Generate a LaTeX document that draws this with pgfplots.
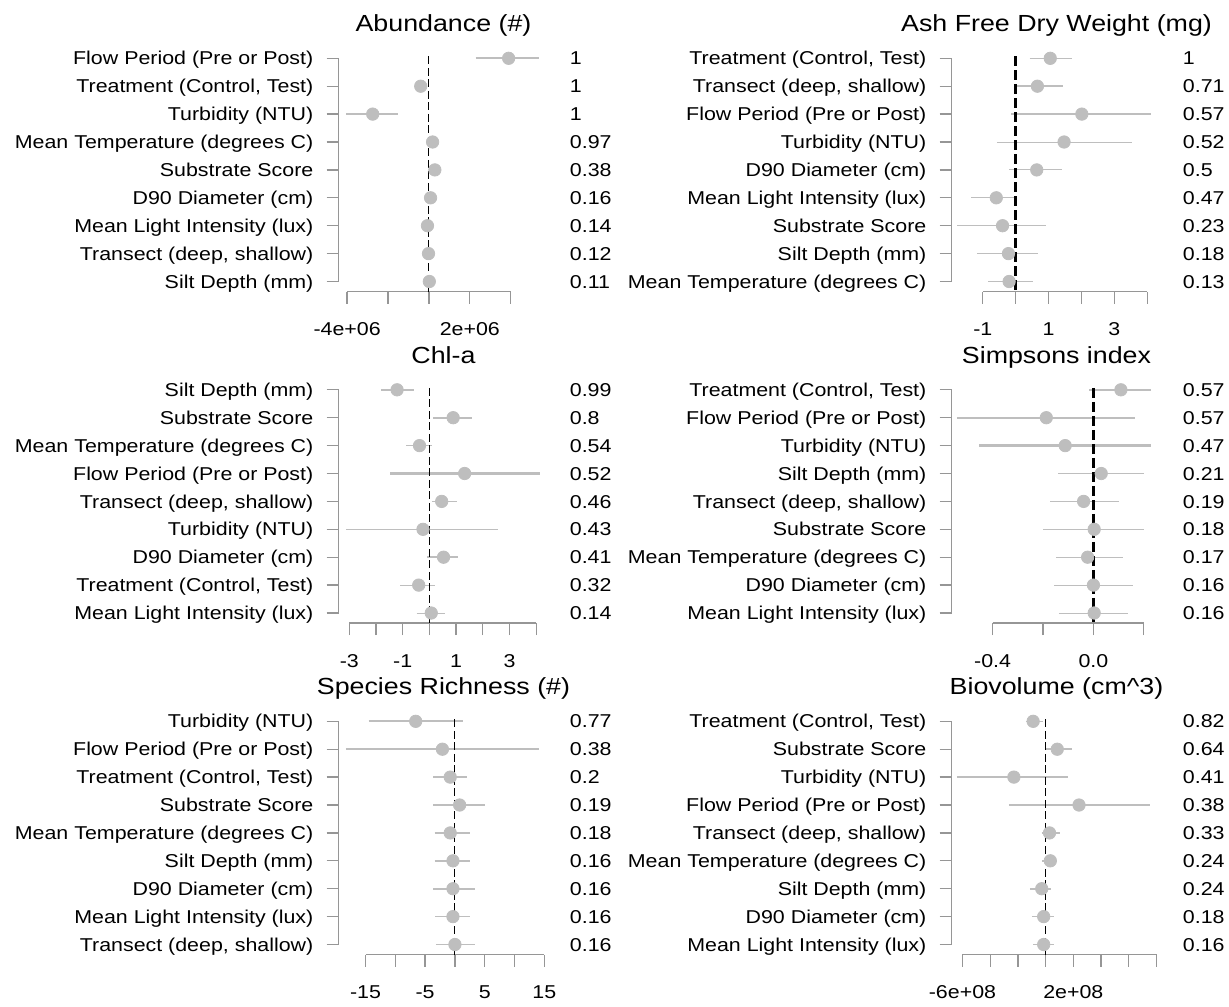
\documentclass[border=0pt]{standalone}
\usepackage{fontspec}
\setmainfont{Liberation Sans}[FakeStretch=1.15]
\usepackage{pgfplots}
\pgfplotsset{compat=1.18}
\definecolor{axgray}{RGB}{150,150,150}
\definecolor{dotgray}{RGB}{190,190,190}
\newcommand\lbl{\fontsize{9.3pt}{11pt}\selectfont}
\newcommand\ttl{\fontsize{11.65pt}{14pt}\selectfont}
\newcommand\eb[4]{\addplot[dotgray, line width=#4, mark=none] coordinates {(#2,#1) (#3,#1)};}
\pgfplotsset{
  forest/.style={
    scale only axis, width=105pt, height=123.25pt,
    anchor=south west,
    ymin=0.6416, ymax=9.4767,
    ytick={1,2,3,4,5,6,7,8,9},
    tick align=outside, major tick length=6pt,
    xtick pos=left, ytick pos=left,
    axis line style={draw=none},
    tick style={axgray, line width=0.65pt},
    clip=false, scaled x ticks=false,
    tick label style={font=\lbl, text=black},
    yticklabel style={anchor=base east, inner sep=0pt, xshift=-6.4pt, yshift=-3.3pt},
    xticklabel style={anchor=base, inner sep=0pt, yshift=-16pt},
    every axis title shift=0pt,
    title style={at={(0.5,1)}, anchor=base, inner sep=0pt, yshift=6.6pt, font=\ttl},
  },
  zero/.style={black, line width=0.45pt, dash pattern=on 4pt off 1.75pt},
  zerothick/.style={black, line width=1.35pt, dash pattern=on 5pt off 2pt},
  fdots/.style={only marks, mark=*, mark size=3.1pt, color=dotgray, mark options={fill=dotgray, draw=dotgray}},
  nums/.style={draw=none, mark=none, point meta=explicit symbolic, nodes near coords,
    every node near coord/.append style={anchor=base west, inner sep=0pt, xshift=10.5pt, yshift=-3.3pt, font=\lbl, text=black}},
}
\newcommand\axlines[2]{%
  \draw[axgray, line width=0.65pt] ({rel axis cs:0,0}|-{axis cs:0,1}) -- ({rel axis cs:0,0}|-{axis cs:0,9});
  \draw[axgray, line width=0.65pt] ({axis cs:#1,0}|-{rel axis cs:0,0}) -- ({axis cs:#2,0}|-{rel axis cs:0,0});
}
\begin{document}
\begin{tikzpicture}
\path[use as bounding box] (0,0) rectangle (614.5pt,-503pt);

% ---------------- Panel 1: Abundance
\begin{axis}[forest, at={(169.25pt,-145.75pt)},
  xmin=-4.423e6, xmax=5.851e6,
  xtick={-4e6,-2e6,0,2e6,4e6}, xticklabels={-4e+06,,,2e+06,},
  title={Abundance (\#)},
  yticklabels={Silt Depth (mm),{Transect (deep, shallow)},Mean Light Intensity (lux),D90 Diameter (cm),Substrate Score,Mean Temperature (degrees C),Turbidity (NTU),{Treatment (Control, Test)},Flow Period (Pre or Post)}]
\axlines{-4e6}{4e6}
\eb{9}{2.28e6}{5.37e6}{1.15pt}
\eb{8}{-0.65e6}{-0.15e6}{0.8pt}
\eb{7}{-4.05e6}{-1.53e6}{1.15pt}
\eb{6}{-0.05e6}{0.40e6}{0.8pt}
\eb{5}{0.05e6}{0.55e6}{0.8pt}
\eb{4}{-0.10e6}{0.25e6}{0.8pt}
\eb{3}{-0.20e6}{0.08e6}{0.5pt}
\eb{2}{-0.15e6}{0.12e6}{0.5pt}
\eb{1}{-0.10e6}{0.14e6}{0.5pt}
\addplot[fdots] coordinates {(3.90e6,9) (-0.40e6,8) (-2.75e6,7) (0.18e6,6) (0.29e6,5) (0.08e6,4) (-0.07e6,3) (-0.02e6,2) (0.02e6,1)};
\addplot[zero] coordinates {(0,9.07) (0,0.6416)};
\addplot[nums] coordinates {(5.851e6,9) [1] (5.851e6,8) [1] (5.851e6,7) [1] (5.851e6,6) [0.97] (5.851e6,5) [0.38] (5.851e6,4) [0.16] (5.851e6,3) [0.14] (5.851e6,2) [0.12] (5.851e6,1) [0.11]};
\end{axis}

% ---------------- Panel 2: Ash Free Dry Weight
\begin{axis}[forest, at={(475.75pt,-145.75pt)},
  xmin=-1.951, xmax=4.432,
  xtick={-1,0,1,2,3,4}, xticklabels={-1,,1,,3,},
  title={Ash Free Dry Weight (mg)},
  yticklabels={Mean Temperature (degrees C),Silt Depth (mm),Substrate Score,Mean Light Intensity (lux),D90 Diameter (cm),Turbidity (NTU),Flow Period (Pre or Post),{Transect (deep, shallow)},{Treatment (Control, Test)}}]
\axlines{-1}{4}
\eb{9}{0.42}{1.71}{0.8pt}
\eb{8}{0.04}{1.43}{0.8pt}
\eb{7}{-0.15}{4.11}{1.15pt}
\eb{6}{-0.57}{3.53}{0.5pt}
\eb{5}{-0.20}{1.41}{0.5pt}
\eb{4}{-1.35}{0.00}{0.5pt}
\eb{3}{-1.78}{0.91}{0.5pt}
\eb{2}{-1.18}{0.69}{0.5pt}
\eb{1}{-0.83}{0.52}{0.5pt}
\addplot[fdots] coordinates {(1.05,9) (0.66,8) (2.01,7) (1.47,6) (0.64,5) (-0.59,4) (-0.40,3) (-0.22,2) (-0.20,1)};
\addplot[zerothick] coordinates {(0,9.07) (0,0.6416)};
\addplot[nums] coordinates {(4.432,9) [1] (4.432,8) [0.71] (4.432,7) [0.57] (4.432,6) [0.52] (4.432,5) [0.5] (4.432,4) [0.47] (4.432,3) [0.23] (4.432,2) [0.18] (4.432,1) [0.13]};
\end{axis}

% ---------------- Panel 3: Chl-a
\begin{axis}[forest, at={(169.25pt,-311.5pt)},
  xmin=-3.404, xmax=4.461,
  xtick={-3,-2,-1,0,1,2,3,4}, xticklabels={-3,,-1,,1,,3,},
  title={Chl-a},
  yticklabels={Mean Light Intensity (lux),{Treatment (Control, Test)},D90 Diameter (cm),Turbidity (NTU),{Transect (deep, shallow)},Flow Period (Pre or Post),Mean Temperature (degrees C),Substrate Score,Silt Depth (mm)}]
\axlines{-3}{4}
\eb{9}{-1.81}{-0.59}{0.8pt}
\eb{8}{0.14}{1.60}{0.8pt}
\eb{7}{-0.86}{0.10}{0.8pt}
\eb{6}{-1.46}{4.13}{1.15pt}
\eb{5}{0.09}{1.04}{0.8pt}
\eb{4}{-3.11}{2.56}{0.5pt}
\eb{3}{-0.09}{1.08}{0.8pt}
\eb{2}{-1.10}{0.20}{0.5pt}
\eb{1}{-0.48}{0.60}{0.5pt}
\addplot[fdots] coordinates {(-1.21,9) (0.89,8) (-0.37,7) (1.32,6) (0.46,5) (-0.24,4) (0.53,3) (-0.40,2) (0.07,1)};
\addplot[zero] coordinates {(0,9.07) (0,0.6416)};
\addplot[nums] coordinates {(4.461,9) [0.99] (4.461,8) [0.8] (4.461,7) [0.54] (4.461,6) [0.52] (4.461,5) [0.46] (4.461,4) [0.43] (4.461,3) [0.41] (4.461,2) [0.32] (4.461,1) [0.14]};
\end{axis}

% ---------------- Panel 4: Simpsons index
\begin{axis}[forest, at={(475.75pt,-311.5pt)},
  xmin=-0.5631, xmax=0.2702,
  xtick={-0.4,-0.2,0,0.2}, xticklabels={-0.4,,0.0,},
  title={Simpsons index},
  yticklabels={Mean Light Intensity (lux),D90 Diameter (cm),Mean Temperature (degrees C),Substrate Score,{Transect (deep, shallow)},Silt Depth (mm),Turbidity (NTU),Flow Period (Pre or Post),{Treatment (Control, Test)}}]
\axlines{-0.4}{0.2}
\eb{9}{-0.016}{0.230}{0.8pt}
\eb{8}{-0.542}{0.163}{1.15pt}
\eb{7}{-0.454}{0.230}{1.15pt}
\eb{6}{-0.140}{0.199}{0.8pt}
\eb{5}{-0.171}{0.101}{0.8pt}
\eb{4}{-0.199}{0.199}{0.5pt}
\eb{3}{-0.148}{0.117}{0.5pt}
\eb{2}{-0.156}{0.156}{0.5pt}
\eb{1}{-0.137}{0.137}{0.5pt}
\addplot[fdots] coordinates {(0.109,9) (-0.187,8) (-0.112,7) (0.031,6) (-0.039,5) (0.003,4) (-0.023,3) (0.0,2) (0.003,1)};
\addplot[zerothick] coordinates {(0,9.07) (0,0.6416)};
\addplot[nums] coordinates {(0.2702,9) [0.57] (0.2702,8) [0.57] (0.2702,7) [0.47] (0.2702,6) [0.21] (0.2702,5) [0.19] (0.2702,4) [0.18] (0.2702,3) [0.17] (0.2702,2) [0.16] (0.2702,1) [0.16]};
\end{axis}

% ---------------- Panel 5: Species Richness
\begin{axis}[forest, at={(169.25pt,-477.25pt)},
  xmin=-19.53, xmax=15.70,
  xtick={-15,-10,-5,0,5,10,15}, xticklabels={-15,,-5,,5,,15},
  title={Species Richness (\#)},
  yticklabels={{Transect (deep, shallow)},Mean Light Intensity (lux),D90 Diameter (cm),Silt Depth (mm),Mean Temperature (degrees C),Substrate Score,{Treatment (Control, Test)},Flow Period (Pre or Post),Turbidity (NTU)}]
\axlines{-15}{15}
\eb{9}{-14.47}{1.32}{1.15pt}
\eb{8}{-18.3}{14.1}{1.15pt}
\eb{7}{-3.6}{2.1}{0.8pt}
\eb{6}{-3.6}{5.1}{1.15pt}
\eb{5}{-3.4}{2.5}{0.8pt}
\eb{4}{-3.4}{2.6}{0.8pt}
\eb{3}{-3.6}{3.3}{0.8pt}
\eb{2}{-3.3}{2.5}{0.5pt}
\eb{1}{-3.2}{3.3}{0.5pt}
\addplot[fdots] coordinates {(-6.58,9) (-2.1,8) (-0.79,7) (0.79,6) (-0.79,5) (-0.33,4) (-0.33,3) (-0.33,2) (0.0,1)};
\addplot[zero] coordinates {(0,9.07) (0,0.6416)};
\addplot[nums] coordinates {(15.70,9) [0.77] (15.70,8) [0.38] (15.70,7) [0.2] (15.70,6) [0.19] (15.70,5) [0.18] (15.70,4) [0.16] (15.70,3) [0.16] (15.70,2) [0.16] (15.70,1) [0.16]};
\end{axis}

% ---------------- Panel 6: Biovolume
\begin{axis}[forest, at={(475.75pt,-477.25pt)},
  xmin=-6.789e8, xmax=8.362e8,
  xtick={-6e8,-4e8,-2e8,0,2e8,4e8,6e8,8e8}, xticklabels={-6e+08,,,,2e+08,,,},
  title={Biovolume (cm\textasciicircum 3)},
  yticklabels={Mean Light Intensity (lux),D90 Diameter (cm),Silt Depth (mm),Mean Temperature (degrees C),{Transect (deep, shallow)},Flow Period (Pre or Post),Turbidity (NTU),Substrate Score,{Treatment (Control, Test)}}]
\axlines{-6e8}{8e8}
\eb{9}{-1.42e8}{-0.17e8}{0.8pt}
\eb{8}{0.02e8}{1.87e8}{0.8pt}
\eb{7}{-6.4e8}{1.62e8}{1.15pt}
\eb{6}{-2.65e8}{7.55e8}{1.15pt}
\eb{5}{-0.28e8}{1.07e8}{0.8pt}
\eb{4}{-0.23e8}{0.85e8}{0.8pt}
\eb{3}{-1.13e8}{0.42e8}{0.8pt}
\eb{2}{-0.99e8}{0.62e8}{0.5pt}
\eb{1}{-0.90e8}{0.62e8}{0.5pt}
\addplot[fdots] coordinates {(-0.9e8,9) (0.84e8,8) (-2.29e8,7) (2.41e8,6) (0.28e8,5) (0.34e8,4) (-0.28e8,3) (-0.14e8,2) (-0.14e8,1)};
\addplot[zero] coordinates {(0,9.07) (0,0.6416)};
\addplot[nums] coordinates {(8.362e8,9) [0.82] (8.362e8,8) [0.64] (8.362e8,7) [0.41] (8.362e8,6) [0.38] (8.362e8,5) [0.33] (8.362e8,4) [0.24] (8.362e8,3) [0.24] (8.362e8,2) [0.18] (8.362e8,1) [0.16]};
\end{axis}
\end{tikzpicture}
\end{document}
